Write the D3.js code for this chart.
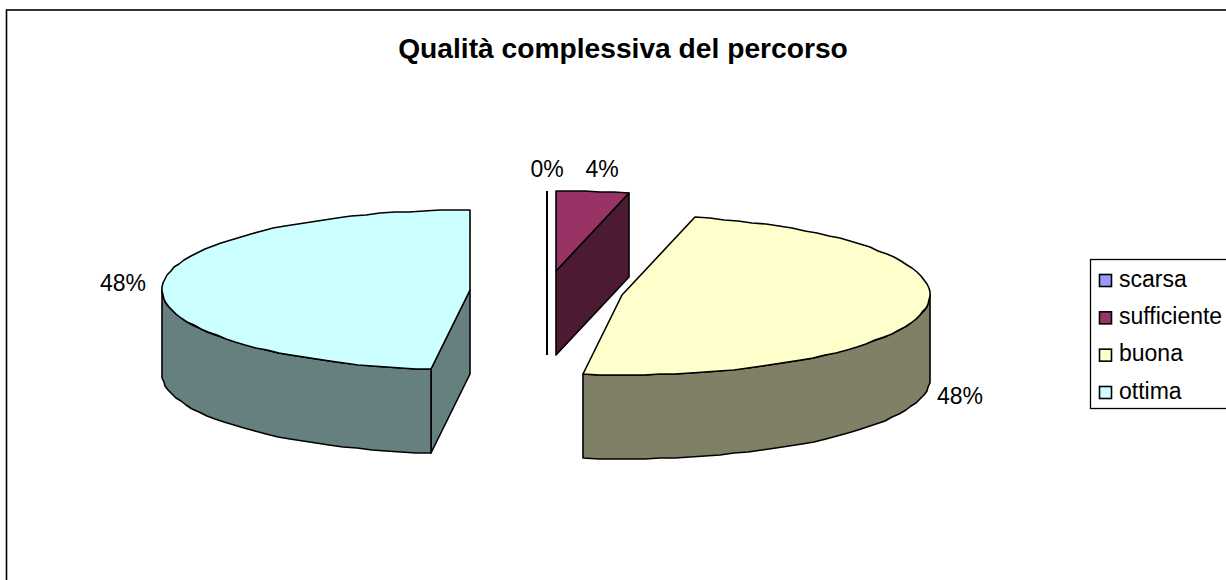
<!DOCTYPE html>
<html><head><meta charset="utf-8">
<script src="https://cdn.jsdelivr.net/npm/d3@7"></script>
<style>html,body{margin:0;padding:0;background:#fff;overflow:hidden}svg{display:block}text{font-family:"Liberation Sans",Arial,sans-serif;fill:#000}</style>
</head><body><svg id="c" width="1226" height="580"></svg>
<script>
const categories = ["scarsa","sufficiente","buona","ottima"];
const values = [0,3.8,48.2,48];
const labels = ["0%","4%","48%","48%"];
const topColors = ["#9999FF","#993366","#FFFFCC","#CCFFFF"];
const sideColors = ["#4D4D80","#4D1A33","#808066","#668080"];
const title = "Qualità complessiva del percorso";

const W=1226,H=580,svg=d3.select("#c");
const rx=308, ry=80, depth=84, cx=546.6, cy=291, ex=76.8, ey=20;
const arcs=d3.pie().sort(null).value(d=>d)(values);
const pt=(c,a)=>[Math.round(c[0]+rx*Math.sin(a)),Math.round(c[1]-ry*Math.cos(a))];
const down=p=>[p[0],p[1]+depth];
const line=d3.line();
const sliceCenter=a=>{const m=(a.startAngle+a.endAngle)/2;return [Math.round(cx+ex*Math.sin(m)),Math.round(cy-ey*Math.cos(m))];};
const arcPts=(c,a0,a1)=>{const n=Math.max(2,Math.ceil(Math.abs(a1-a0)/0.05));return d3.range(n+1).map(i=>pt(c,a0+(a1-a0)*i/n));};

svg.append("rect").attr("x",6.5).attr("y",10).attr("width",W).attr("height",H).attr("fill","#fff").attr("stroke","#000").attr("stroke-width",1.6);

svg.append("text").attr("x",623).attr("y",58).attr("text-anchor","middle").attr("font-size",28.2).attr("font-weight","bold").text(title);

const g=svg.append("g").attr("stroke","#000").attr("stroke-width",1.6).attr("stroke-linejoin","round");
const draw=(pts,fill)=>g.append("path").attr("d",line(pts)+"Z").attr("fill",fill);

// back to front: ottima, scarsa, sufficiente, buona
[3,0,1,2].forEach(i=>{
  const a=arcs[i],c=sliceCenter(a),s=a.startAngle,e=a.endAngle;
  const side=sideColors[i],top=topColors[i];
  if(i===0){
    g.append("path").attr("d",line([pt(c,s),down(c)])).attr("fill","none").attr("stroke-width",2);
    return;
  }
  if(i===1){
    draw([c,pt(c,e),down(pt(c,e)),down(c)],side);
  }
  if(i===3){
    draw([c,pt(c,s),down(pt(c,s)),down(c)],side);
    const w=arcPts(c,s,1.5*Math.PI);
    draw(w.concat(w.map(down).reverse()),side);
  }
  if(i===2){
    const w=arcPts(c,Math.PI/2,e);
    draw(w.concat(w.map(down).reverse()),side);
  }
  draw([c].concat(arcPts(c,s,e)),top);
});

// data labels
const labelX=[547,602,960,123], labelY=[177,177,404,291];
svg.append("g").selectAll("text").data(labels).join("text")
  .attr("x",(d,i)=>labelX[i]).attr("y",(d,i)=>labelY[i]).attr("text-anchor","middle").attr("font-size",23).text(d=>d);

// legend
const lg=svg.append("g");
lg.append("rect").attr("x",1090.5).attr("y",259.5).attr("width",150).attr("height",149).attr("fill","#fff").attr("stroke","#000").attr("stroke-width",1.3);
const ly=d3.scalePoint().domain(categories).range([280.5,392.5]);
categories.forEach((k,i)=>{
  lg.append("rect").attr("x",1099.5).attr("y",ly(k)-6).attr("width",12).attr("height",12).attr("fill",topColors[i]).attr("stroke","#000").attr("stroke-width",1.6);
  lg.append("text").attr("x",1119).attr("y",ly(k)+6).attr("font-size",23).text(k);
});
</script></body></html>
